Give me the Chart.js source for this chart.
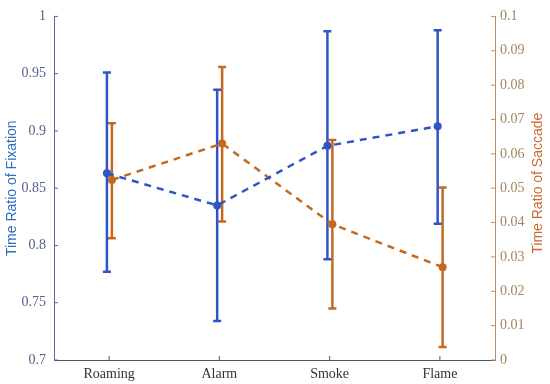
<!DOCTYPE html>
<html>
<head>
<meta charset="utf-8">
<script src="https://cdn.jsdelivr.net/npm/chart.js@4.4.0/dist/chart.umd.min.js"></script>
<style>
    html, body { margin: 0; padding: 0; background: #ffffff; }
    #wrap { width: 550px; height: 384px; }
</style>
</head>
<body>
<div id="wrap"><canvas id="chart" width="550" height="384"></canvas></div>
<script>
const categories = ["Roaming", "Alarm", "Smoke", "Flame"];

// time ratio of fixation (left axis)
const fixMean = [0.863, 0.835, 0.887, 0.904];
const fixLow  = [0.777, 0.734, 0.788, 0.819];
const fixHigh = [0.951, 0.936, 0.987, 0.988];

// time ratio of saccade (right axis)
const sacMean = [0.0524, 0.0630, 0.0395, 0.0270];
const sacLow  = [0.0354, 0.0403, 0.0150, 0.0038];
const sacHigh = [0.0689, 0.0853, 0.0640, 0.0502];

const leftTitle = "Time Ratio of Fixation";
const rightTitle = "Time Ratio of Saccade";

const blue = "#2f55c4";
const orange = "#c26a22";
const fixShift = -0.02;
const sacShift = 0.025;

const datasets = [];

function addErrorBars(low, high, shift, color, axis) {
    low.forEach((lo, i) => {
        datasets.push({
            type: "line",
            data: [{ x: i + 1 + shift, y: lo }, { x: i + 1 + shift, y: high[i] }],
            borderColor: color,
            borderWidth: 2.5,
            pointStyle: "line",
            pointRadius: 4,
            pointBorderWidth: 2.5,
            pointBorderColor: color,
            yAxisID: axis,
            order: 2
        });
    });
}

addErrorBars(fixLow, fixHigh, fixShift, blue, "y");
addErrorBars(sacLow, sacHigh, sacShift, orange, "y1");

datasets.push({
    type: "line",
    data: sacMean.map((v, i) => ({ x: i + 1 + sacShift, y: v })),
    borderColor: orange,
    backgroundColor: orange,
    borderWidth: 2.5,
    borderDash: [7, 6],
    pointRadius: 4,
    pointBorderWidth: 0,
    yAxisID: "y1",
    order: 1
});

datasets.push({
    type: "line",
    data: fixMean.map((v, i) => ({ x: i + 1 + fixShift, y: v })),
    borderColor: blue,
    backgroundColor: blue,
    borderWidth: 2.5,
    borderDash: [7, 6],
    pointRadius: 4,
    pointBorderWidth: 0,
    yAxisID: "y",
    order: 0
});

// matlab style: tick marks inside the box, both axis titles read bottom to top
const axisDecor = {
    id: "axisDecor",
    afterDraw(chart) {
        const ctx = chart.ctx;
        const area = chart.chartArea;
        ctx.save();
        ctx.lineWidth = 1;
        const xs = chart.scales.x;
        ctx.strokeStyle = "#555555";
        xs.ticks.forEach(t => {
            const px = xs.getPixelForValue(t.value);
            ctx.beginPath();
            ctx.moveTo(px, area.bottom);
            ctx.lineTo(px, area.bottom - 4);
            ctx.stroke();
        });
        const yl = chart.scales.y;
        ctx.strokeStyle = "#5a66a0";
        yl.ticks.forEach(t => {
            const py = yl.getPixelForValue(t.value);
            ctx.beginPath();
            ctx.moveTo(area.left, py);
            ctx.lineTo(area.left + 4, py);
            ctx.stroke();
        });
        const yr = chart.scales.y1;
        ctx.strokeStyle = "#b09070";
        yr.ticks.forEach(t => {
            const py = yr.getPixelForValue(t.value);
            ctx.beginPath();
            ctx.moveTo(area.right, py);
            ctx.lineTo(area.right - 4, py);
            ctx.stroke();
        });

        const midY = (area.top + area.bottom) / 2;
        ctx.font = "14px 'Liberation Sans'";
        ctx.textAlign = "center";
        ctx.textBaseline = "middle";
        ctx.fillStyle = "#2e6dc0";
        ctx.translate(12, midY);
        ctx.rotate(-Math.PI / 2);
        ctx.fillText(leftTitle, 0, 0);
        ctx.setTransform(1, 0, 0, 1, 0, 0);
        ctx.fillStyle = "#cc6a2e";
        ctx.translate(538, midY - 5);
        ctx.rotate(-Math.PI / 2);
        ctx.fillText(rightTitle, 0, 0);
        ctx.restore();
    }
};

new Chart(document.getElementById("chart"), {
    type: "line",
    data: { datasets },
    plugins: [axisDecor],
    options: {
        responsive: false,
        animation: false,
        layout: { padding: { top: 11, bottom: 0, left: 0, right: 0 } },
        plugins: {
            legend: { display: false },
            tooltip: { enabled: false }
        },
        scales: {
            x: {
                type: "linear",
                min: 0.5,
                max: 4.5,
                afterBuildTicks: axis => {
                    axis.ticks = categories.map((c, i) => ({ value: i + 1 }));
                },
                afterFit: axis => { axis.height = 24; },
                grid: { display: false, drawTicks: false },
                border: { display: true, color: "#555555", width: 1 },
                ticks: {
                    color: "#333333",
                    padding: 6,
                    font: { family: "Liberation Serif", size: 14 },
                    callback: v => categories[Math.round(v) - 1] || ""
                }
            },
            y: {
                position: "left",
                min: 0.7,
                max: 1,
                afterFit: axis => { axis.width = 54; },
                grid: { display: false, drawTicks: false },
                border: { display: true, color: "#5a66a0", width: 1 },
                ticks: {
                    stepSize: 0.05,
                    color: "#56618f",
                    padding: 8,
                    font: { family: "Liberation Serif", size: 14 },
                    callback: v => String(Number(v.toFixed(2)))
                }
            },
            y1: {
                position: "right",
                min: 0,
                max: 0.1,
                afterFit: axis => { axis.width = 55; },
                grid: { display: false, drawTicks: false },
                border: { display: true, color: "#b09070", width: 1 },
                ticks: {
                    stepSize: 0.01,
                    color: "#a4855c",
                    padding: 5,
                    font: { family: "Liberation Serif", size: 14 },
                    callback: v => String(Number(v.toFixed(2)))
                }
            }
        }
    }
});
</script>
</body>
</html>
